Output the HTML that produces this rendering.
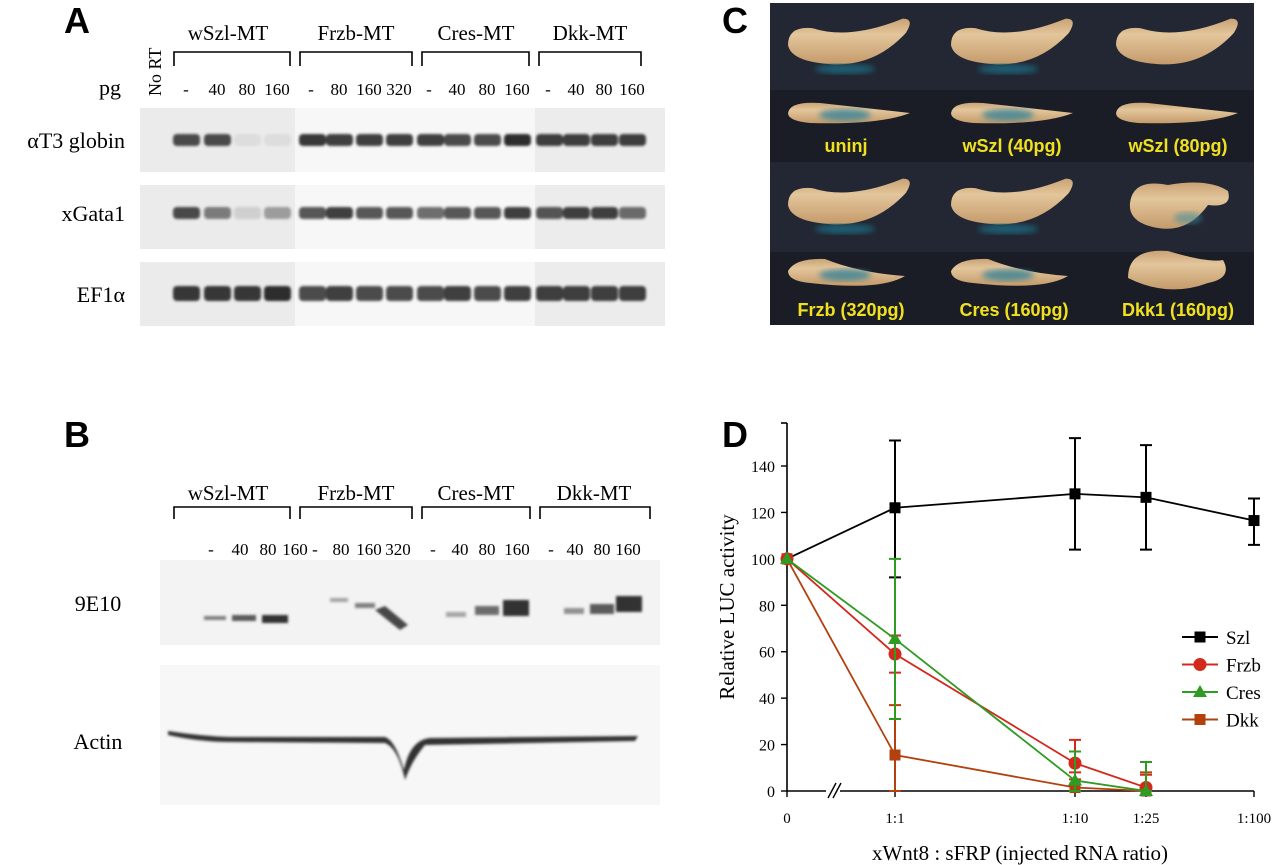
<!DOCTYPE html>
<html><head><meta charset="utf-8">
<style>
html,body{margin:0;padding:0;background:#fff;}
body{width:1280px;height:865px;position:relative;overflow:hidden;font-family:"Liberation Serif",serif;}
svg{position:absolute;left:0;top:0;}
</style></head>
<body>
<svg id="fig" width="1280" height="865" viewBox="0 0 1280 865">
<defs>
<filter id="blur" x="-20%" y="-50%" width="140%" height="200%"><feGaussianBlur stdDeviation="1.4"/></filter>
<filter id="blur2"><feGaussianBlur stdDeviation="3"/></filter>
<linearGradient id="tan" x1="0" y1="0" x2="0" y2="1"><stop offset="0" stop-color="#c9a274"/><stop offset="0.35" stop-color="#e3c69c"/><stop offset="1" stop-color="#c49a6a"/></linearGradient>
</defs>

<!-- Panel A -->
<g>
<text x="64" y="33" font-family="Liberation Sans" font-weight="bold" font-size="36">A</text>
<g font-size="21" text-anchor="middle">
<text x="228" y="40">wSzl-MT</text><text x="356" y="40">Frzb-MT</text><text x="476" y="40">Cres-MT</text><text x="590" y="40">Dkk-MT</text>
</g>
<g stroke="#000" stroke-width="1.6" fill="none">
<path d="M174 66V52H290V66"/><path d="M300 66V52H412V66"/><path d="M422 66V52H529V66"/><path d="M539 66V52H641V66"/>
</g>
<text x="110" y="95" font-size="22" text-anchor="middle">pg</text>
<text transform="translate(161,96) rotate(-90)" font-size="18">No RT</text>
<g font-size="17" text-anchor="middle">
<text x="186" y="95">-</text><text x="217" y="95">40</text><text x="247" y="95">80</text><text x="277" y="95">160</text>
<text x="311" y="95">-</text><text x="339" y="95">80</text><text x="369" y="95">160</text><text x="399" y="95">320</text>
<text x="429" y="95">-</text><text x="457" y="95">40</text><text x="487" y="95">80</text><text x="517" y="95">160</text>
<text x="548" y="95">-</text><text x="576" y="95">40</text><text x="604" y="95">80</text><text x="632" y="95">160</text>
</g>
<g font-size="22" text-anchor="end">
<text x="125" y="148">αT3 globin</text><text x="125" y="221">xGata1</text><text x="125" y="302">EF1α</text>
</g>
<g id="gelA"></g>
</g>

<!-- Panel B -->
<g>
<text x="64" y="447" font-family="Liberation Sans" font-weight="bold" font-size="36">B</text>
<g font-size="21" text-anchor="middle">
<text x="228" y="500">wSzl-MT</text><text x="356" y="500">Frzb-MT</text><text x="476" y="500">Cres-MT</text><text x="594" y="500">Dkk-MT</text>
</g>
<g stroke="#000" stroke-width="1.6" fill="none">
<path d="M174 519V507H290V519"/><path d="M300 519V507H412V519"/><path d="M422 519V507H530V519"/><path d="M540 519V507H650V519"/>
</g>
<g font-size="17" text-anchor="middle">
<text x="211" y="555">-</text><text x="240" y="555">40</text><text x="268" y="555">80</text><text x="295" y="555">160</text>
<text x="315" y="555">-</text><text x="341" y="555">80</text><text x="369" y="555">160</text><text x="398" y="555">320</text>
<text x="433" y="555">-</text><text x="460" y="555">40</text><text x="487" y="555">80</text><text x="517" y="555">160</text>
<text x="551" y="555">-</text><text x="575" y="555">40</text><text x="602" y="555">80</text><text x="628" y="555">160</text>
</g>
<text x="98" y="611" font-size="22" text-anchor="middle">9E10</text>
<text x="98" y="749" font-size="22" text-anchor="middle">Actin</text>
<rect x="160" y="560" width="500" height="85" fill="#f3f3f3"/>
<rect x="160" y="665" width="500" height="140" fill="#f7f7f7"/>
<g filter="url(#blur)" fill="#333">
<rect x="204" y="616" width="22" height="4" opacity=".6"/><rect x="232" y="615" width="24" height="6" opacity=".8"/><rect x="262" y="615" width="26" height="8"/>
<rect x="330" y="598" width="18" height="4" opacity=".4"/><rect x="355" y="603" width="20" height="5" opacity=".6"/>
<path d="M375 610 L400 630 L408 625 L385 606Z" opacity=".9"/>
<rect x="446" y="612" width="20" height="5" opacity=".4"/><rect x="475" y="606" width="24" height="9" opacity=".7"/><rect x="503" y="600" width="26" height="16"/>
<rect x="564" y="608" width="20" height="6" opacity=".5"/><rect x="590" y="604" width="24" height="10" opacity=".8"/><rect x="616" y="596" width="26" height="16"/>
<path d="M168 735 Q200 742 230 742 L385 743 Q398 748 405 780 Q412 760 425 745 L635 741 L638 736 L430 738 Q410 740 404 770 Q395 740 385 737 L230 737 Q200 736 168 731Z" />
</g>
</g>

<!-- Panel C -->
<g>
<text x="722" y="33" font-family="Liberation Sans" font-weight="bold" font-size="36">C</text>
<rect x="770" y="3" width="484" height="322" fill="#222733"/>
<rect x="770" y="90" width="484" height="72" fill="#1a1d25"/>
<rect x="770" y="252" width="484" height="73" fill="#1a1d25"/>
<g id="embryos"></g>
<g font-family="Liberation Sans" font-weight="bold" font-size="18" fill="#f0e020" text-anchor="middle">
<text x="846" y="152">uninj</text><text x="1012" y="152">wSzl (40pg)</text><text x="1178" y="152">wSzl (80pg)</text>
<text x="851" y="316">Frzb (320pg)</text><text x="1014" y="316">Cres (160pg)</text><text x="1178" y="316">Dkk1 (160pg)</text>
</g>
</g>

<!-- Panel D -->
<g>
<text x="722" y="447" font-family="Liberation Sans" font-weight="bold" font-size="36">D</text>
<g id="chartD"></g>
</g>
</svg>

<script>
// ===== Chart D data =====
const categories = ["0","1:1","1:10","1:25","1:100"];
const seriesNames = ["Szl","Frzb","Cres","Dkk"];
const szlValues = [100,122,128,126.5,116.5];
const szlErrHi  = [100,151,152,149,126];
const szlErrLo  = [100,92,104,104,106];
const frzbValues = [100,59,12,1.5];
const frzbErrHi  = [100,67,22,7];
const frzbErrLo  = [100,51,8,0];
const cresValues = [100,65.5,4.5,0];
const cresErrHi  = [100,100,17,12.5];
const cresErrLo  = [100,31,0,0];
const dkkValues = [100,15.5,1.5,0];
const dkkErrHi  = [100,37,5,8];
const dkkErrLo  = [100,0,0,0];
const yTicks = [0,20,40,60,80,100,120,140];

const NS="http://www.w3.org/2000/svg";
function mk(tag,attrs,parent){const e=document.createElementNS(NS,tag);for(const k in attrs)e.setAttribute(k,attrs[k]);parent.appendChild(e);return e;}
const g=document.getElementById('chartD');
const catX=[787,895,1075,1146,1254];
function xs(i){return catX[i];}
function ys(v){return 791-v*(325/140);}

const ax=mk('path',{d:`M787 423V791H1254`,stroke:'#000','stroke-width':1.6,fill:'none'},g);


mk('path',{d:'M781 423H787',stroke:'#000','stroke-width':1.6},g);
mk('rect',{x:826,y:783,width:14,height:16,fill:'#fff'},g);
mk('path',{d:'M828 798L836 783M833 798L841 783',stroke:'#000','stroke-width':1.4},g);
yTicks.forEach(t=>{
  mk('path',{d:`M781 ${ys(t)}H787`,stroke:'#000','stroke-width':1.4},g);
  const tx=mk('text',{x:775,y:ys(t)+6,'font-size':16,'text-anchor':'end'},g);
  tx.textContent=t;
  
  
});
categories.forEach((c,i)=>{
  mk('path',{d:`M${xs(i)} 791V797`,stroke:'#000','stroke-width':1.4},g);
  const tx=mk('text',{x:xs(i),y:823,'font-size':15,'text-anchor':'middle'},g);
  tx.textContent=c;
  
  
});
const yt=mk('text',{transform:'translate(734,607) rotate(-90)','font-size':21,'text-anchor':'middle'},g);
yt.textContent='Relative LUC activity';


const xt=mk('text',{x:1020,y:860,'font-size':21,'text-anchor':'middle'},g);
xt.textContent='xWnt8 : sFRP (injected RNA ratio)';



const series=[
 {name:'Szl',vals:szlValues,hi:szlErrHi,lo:szlErrLo,color:'#000',marker:'square'},
 {name:'Dkk',vals:dkkValues,hi:dkkErrHi,lo:dkkErrLo,color:'#b2410f',marker:'square'},
 {name:'Frzb',vals:frzbValues,hi:frzbErrHi,lo:frzbErrLo,color:'#d3281c',marker:'circle'},
 {name:'Cres',vals:cresValues,hi:cresErrHi,lo:cresErrLo,color:'#2f9b22',marker:'triangle'},
];
function marker(type,x,y,color,parent){
  let m;
  if(type==='square') m=mk('rect',{x:x-5.5,y:y-5.5,width:11,height:11,fill:color},parent);
  else if(type==='circle') m=mk('circle',{cx:x,cy:y,r:6.5,fill:color},parent);
  else m=mk('path',{d:`M${x} ${y-7}L${x+7} ${y+5}L${x-7} ${y+5}Z`,fill:color},parent);
  return m;
}
series.forEach(s=>{
  const sg=mk('g',{},g);
  
  
  s.vals.forEach((v,i)=>{
    if(s.hi[i]!==s.lo[i]){
      const x=xs(i);
      mk('path',{d:`M${x} ${ys(s.hi[i])}V${ys(s.lo[i])}M${x-6} ${ys(s.hi[i])}H${x+6}M${x-6} ${ys(s.lo[i])}H${x+6}`,stroke:s.color,'stroke-width':2,fill:'none'},sg);
    }
  });
  const pts=s.vals.map((v,i)=>`${xs(i)},${ys(v)}`).join(' ');
  const ln=mk('polyline',{points:pts,fill:'none',stroke:s.color,'stroke-width':1.8},sg);
  
  
  s.vals.forEach((v,i)=>{
    const m=marker(s.marker,xs(i),ys(v),s.color,sg);
    
    
  });
});
const legOrder=['Szl','Frzb','Cres','Dkk'];
legOrder.forEach((n,k)=>{
  const s=series.find(z=>z.name===n);
  const y=637+k*27.5;
  const lg=mk('g',{},g);
  
  
  mk('path',{d:`M1182 ${y}H1218`,stroke:s.color,'stroke-width':2},lg);
  marker(s.marker,1200,y,s.color,lg);
  const t=mk('text',{x:1226,y:y+7,'font-size':19},lg);
  t.textContent=n;
});

// ===== Gel A =====
const gA=document.getElementById('gelA');
const laneX=[186,217,247,277,312,339,369,399,430,457,487,517,549,576,604,632];
const rowsY=[108,185,262];
const rowBandY=[140,213,294];
const intens=[
 [.8,.8,.06,.06, .9,.85,.85,.85, .85,.8,.8,.95, .85,.85,.85,.85],
 [.8,.55,.15,.4, .75,.85,.75,.75, .65,.75,.75,.85, .75,.85,.85,.65],
 [.9,.9,.9,.95, .8,.85,.8,.8, .8,.85,.8,.85, .85,.85,.85,.85]];
rowsY.forEach((ry,r)=>{
  mk('rect',{x:140,y:ry,width:155,height:64,fill:'#ebebeb'},gA);
  mk('rect',{x:295,y:ry,width:240,height:64,fill:'#f7f7f7'},gA);
  mk('rect',{x:535,y:ry,width:130,height:64,fill:'#ececec'},gA);
  const bg=mk('g',{filter:'url(#blur)'},gA);
  laneX.forEach((x,i)=>{
    mk('rect',{x:x-13,y:rowBandY[r]-(r===2?8:6),width:27,height:r===2?15:12,rx:4,fill:'#222',opacity:intens[r][i]},bg);
  });
});

// ===== Embryos C =====
const gC=document.getElementById('embryos');
const cellsX=[850,1013,1178], cellsY=[3,163];
function banana(cx,cy,w,h,bend){
  return `M${cx-w} ${cy}Q${cx-w} ${cy-h*0.8} ${cx-w*0.6} ${cy-h*0.7}Q${cx} ${cy-h*0.2+bend*0.3} ${cx+w*0.85} ${cy-h*1.1-bend*0.3}Q${cx+w*1.05} ${cy-h*1.1} ${cx+w*0.9} ${cy-h*0.5}Q${cx+w*0.4} ${cy+h*0.9} ${cx-w*0.3} ${cy+h*0.8}Q${cx-w*0.95} ${cy+h*0.7} ${cx-w} ${cy}Z`;
}
cellsY.forEach((cy,r)=>cellsX.forEach((cx,c)=>{
  const eg=mk('g',{},gC);
  
  
  const dkk=(r===1&&c===2);
  const noBlue=(r===0&&c===2);
  if(dkk){
    mk('path',{d:`M${cx-48} ${cy+40}Q${cx-45} ${cy+15} ${cx-10} ${cy+22}Q${cx+30} ${cy+15} ${cx+50} ${cy+28}Q${cx+55} ${cy+45} ${cx+30} ${cy+42}Q${cx+10} ${cy+70} ${cx-20} ${cy+65}Q${cx-50} ${cy+60} ${cx-48} ${cy+40}Z`,fill:'url(#tan)'},eg);
    mk('path',{d:`M${cx-50} ${cy+115}Q${cx-50} ${cy+85} ${cx-10} ${cy+88}Q${cx+30} ${cy+100} ${cx+45} ${cy+97}Q${cx+55} ${cy+115} ${cx+30} ${cy+120}Q${cx-10} ${cy+135} ${cx-50} ${cy+115}Z`,fill:'url(#tan)'},eg);
    mk('ellipse',{cx:cx+10,cy:cy+55,rx:14,ry:6,fill:'#3b8da0',opacity:.55,filter:'url(#blur2)'},eg);
    return;
  }
  mk('path',{d:banana(cx,cy+42,62,24,0),fill:'url(#tan)'},eg);
  if(!noBlue) mk('ellipse',{cx:cx-5,cy:cy+66,rx:30,ry:5,fill:'#1f6f88',opacity:.75,filter:'url(#blur2)'},eg);
  if(r===0) mk('path',{d:`M${cx-62} ${cy+110}Q${cx-60} ${cy+98} ${cx-30} ${cy+100}L${cx+60} ${cy+110}Q${cx+30} ${cy+122} ${cx-40} ${cy+120}Q${cx-62} ${cy+118} ${cx-62} ${cy+110}Z`,fill:'url(#tan)'},eg);
  else mk('path',{d:`M${cx-62} ${cy+108}Q${cx-55} ${cy+95} ${cx-25} ${cy+96}Q${cx+10} ${cy+110} ${cx+55} ${cy+113}Q${cx+30} ${cy+128} ${cx-40} ${cy+120}Q${cx-62} ${cy+118} ${cx-62} ${cy+108}Z`,fill:'url(#tan)'},eg);
  if(!noBlue) mk('ellipse',{cx:cx-5,cy:cy+112,rx:26,ry:6,fill:'#2a7f98',opacity:.75,filter:'url(#blur2)'},eg);
}));
</script>
</body></html>
